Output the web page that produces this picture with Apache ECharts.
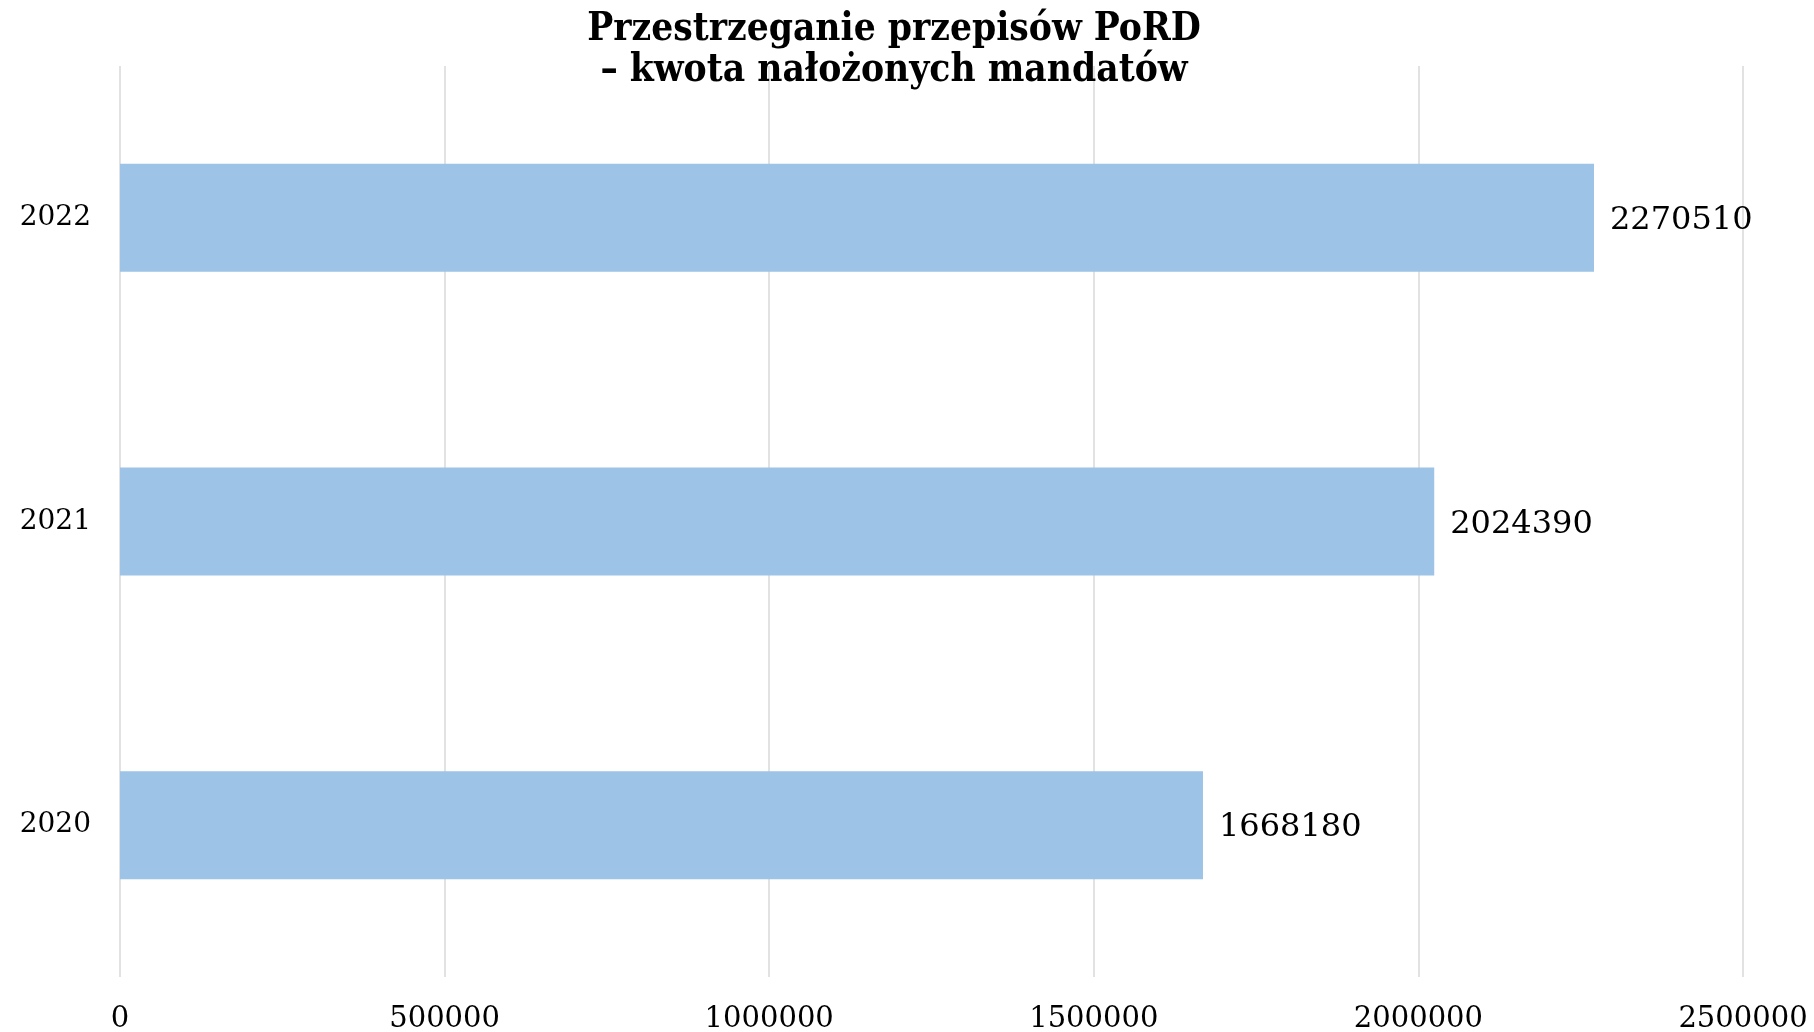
<!DOCTYPE html>
<html>
<head>
<meta charset="utf-8">
<script src="https://cdn.jsdelivr.net/npm/echarts@6/dist/echarts.min.js"></script>
<style>
  html, body { margin: 0; padding: 0; background: #fff; }
  #chart { width: 1814px; height: 1032px; }
</style>
</head>
<body>
<div id="chart"></div>
<script>
// dane z wykresu
const years = ['2020', '2021', '2022'];
const amounts = [1668180, 2024390, 2270510];
const xTicks = [0, 500000, 1000000, 1500000, 2000000, 2500000];

const serif = "Georgia, 'DejaVu Serif', serif";

const chart = echarts.init(document.getElementById('chart'));
chart.setOption({
  backgroundColor: '#ffffff',
  animation: false,
  title: {
    text: 'Przestrzeganie przepisów PoRD\n– kwota nałożonych mandatów',
    left: 889,
    top: 4,
    textAlign: 'center',
    textStyle: {
      fontFamily: "'DejaVu Serif Condensed', " + serif,
      fontWeight: 'bold',
      fontSize: 38.5,
      lineHeight: 41,
      color: '#000'
    }
  },
  grid: {
    left: 120,
    right: 71,
    top: 66,
    bottom: 55,
    containLabel: false,
    outerBoundsMode: 'none'
  },
  xAxis: {
    type: 'value',
    min: xTicks[0],
    max: xTicks[xTicks.length - 1],
    interval: xTicks[1] - xTicks[0],
    axisLine: { show: false },
    axisTick: { show: false },
    splitLine: { show: true, lineStyle: { color: '#d9d9d9', width: 1.5 } },
    axisLabel: {
      margin: 28,
      fontFamily: serif,
      fontSize: 29,
      color: '#000',
      formatter: (v) => String(v)
    }
  },
  yAxis: {
    type: 'category',
    data: years,
    axisLine: { show: false },
    axisTick: { show: false },
    axisLabel: {
      margin: 29,
      fontFamily: serif,
      fontSize: 28,
      color: '#000'
    }
  },
  series: [{
    type: 'bar',
    data: amounts,
    barWidth: 108,
    itemStyle: { color: '#9dc3e6' },
    label: {
      show: true,
      position: 'right',
      distance: 16,
      offset: [0, 3],
      fontFamily: serif,
      fontSize: 32,
      color: '#000'
    }
  }]
});
</script>
</body>
</html>
